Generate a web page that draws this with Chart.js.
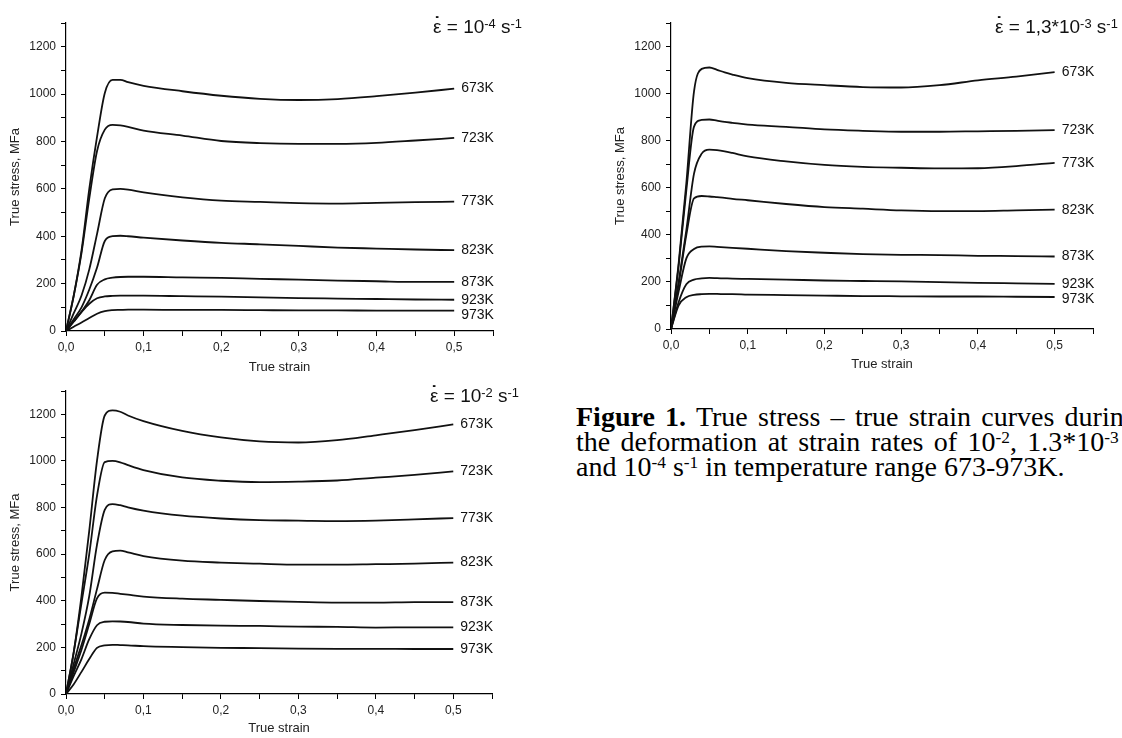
<!DOCTYPE html>
<html>
<head>
<meta charset="utf-8">
<script src="https://cdn.jsdelivr.net/npm/chart.js@4.4.0/dist/chart.umd.min.js"></script>
<style>
  body { margin: 0; width: 1122px; height: 738px; overflow: hidden; background: #fff; position: relative;
         font-family: Arial, 'Liberation Sans', sans-serif; }
  canvas { position: absolute; }
  .rate { position: absolute; font-size: 19px; line-height: 22px; white-space: nowrap; color: #111; }
  .rate sup { font-size: 0.68em; position: relative; top: -0.42em; vertical-align: baseline; line-height: 0; }
  .eps { position: relative; display: inline-block; }
  .eps .dot { position: absolute; left: 0; width: 100%; text-align: center; top: -0.14em; font-weight: bold; }
  .cap { position: absolute; left: 576px; font-family: 'Liberation Serif', 'Times New Roman', serif;
         font-size: 28px; line-height: 25px; white-space: nowrap; color: #000; }
  .cap sup { font-size: 0.62em; position: relative; top: -0.45em; vertical-align: baseline; line-height: 0; }
</style>
</head>
<body>
<canvas id="g1" width="560" height="380" style="left:0;top:0"></canvas>
<canvas id="g2" width="517" height="380" style="left:605px;top:0"></canvas>
<canvas id="g3" width="560" height="372" style="left:0;top:366px"></canvas>

<div class="rate" style="left:433px;top:16px"><span class="eps">ε<span class="dot">˙</span></span> = 10<sup>-4</sup> s<sup>-1</sup></div>
<div class="rate" style="left:995px;top:16px"><span class="eps">ε<span class="dot">˙</span></span> = 1,3*10<sup>-3</sup> s<sup>-1</sup></div>
<div class="rate" style="left:430px;top:385px"><span class="eps">ε<span class="dot">˙</span></span> = 10<sup>-2</sup> s<sup>-1</sup></div>

<div class="cap" style="top:404px;word-spacing:3.3px"><b>Figure 1.</b> True stress – true strain curves during</div>
<div class="cap" style="top:429px;word-spacing:3.3px">the deformation at strain rates of 10<sup>-2</sup>, 1.3*10<sup>-3</sup></div>
<div class="cap" style="top:454px">and 10<sup>-4</sup> s<sup>-1</sup> in temperature range 673-973K.</div>

<script>
// strain points shared by all curves
const strain = [0, 0.01, 0.02, 0.03, 0.04, 0.05, 0.06, 0.07, 0.08, 0.1, 0.15, 0.2, 0.25, 0.3, 0.35, 0.4, 0.45, 0.5];
const temps = ['673K', '723K', '773K', '823K', '873K', '923K', '973K'];

// rate 1e-4 s-1, true stress MPa
const r4_673 = [0, 150, 340, 600, 820, 1005, 1060, 1060, 1050, 1035, 1012, 993, 980, 975, 979, 991, 1006, 1023];
const r4_723 = [0, 150, 330, 560, 760, 850, 870, 868, 862, 846, 825, 802, 793, 790, 790, 794, 804, 815];
const r4_773 = [0, 75, 150, 260, 410, 560, 598, 600, 597, 585, 564, 550, 545, 540, 538, 541, 544, 546];
const r4_823 = [0, 50, 100, 175, 268, 380, 400, 402, 400, 394, 382, 372, 366, 359, 352, 348, 344, 341];
const r4_873 = [0, 40, 82, 130, 195, 218, 225, 228, 229, 229, 226, 224, 220, 217, 213, 210, 207, 207];
const r4_923 = [0, 40, 80, 115, 138, 146, 148, 149, 149, 149, 147, 145, 142, 139, 137, 135, 133, 132];
const r4_973 = [0, 18, 36, 55, 73, 84, 88, 89, 90, 90, 89, 89, 88, 87, 87, 86, 86, 86];

// rate 1.3e-3 s-1
const r3_673 = [0, 280, 620, 1010, 1105, 1111, 1101, 1090, 1081, 1066, 1046, 1036, 1028, 1026, 1036, 1056, 1072, 1091];
const r3_723 = [0, 270, 590, 860, 888, 890, 885, 880, 876, 868, 859, 848, 842, 838, 838, 840, 842, 845];
const r3_773 = [0, 200, 420, 660, 745, 762, 760, 755, 748, 733, 712, 697, 689, 685, 682, 683, 692, 706];
const r3_823 = [0, 190, 400, 555, 565, 563, 560, 557, 553, 547, 531, 518, 511, 504, 501, 501, 504, 507];
const r3_873 = [0, 160, 300, 340, 350, 351, 349, 347, 345, 341, 331, 324, 318, 315, 314, 311, 310, 308];
const r3_923 = [0, 115, 190, 210, 215, 217, 216, 215, 214, 213, 210, 206, 204, 202, 199, 196, 194, 192];
const r3_973 = [0, 100, 135, 145, 148, 149, 149, 148, 148, 146, 144, 142, 140, 139, 138, 138, 137, 136];

// rate 1e-2 s-1
const r2_673 = [0, 180, 420, 700, 1000, 1195, 1217, 1211, 1195, 1171, 1129, 1101, 1084, 1079, 1089, 1110, 1132, 1157];
const r2_723 = [0, 180, 390, 600, 850, 995, 1000, 994, 982, 961, 929, 915, 909, 911, 916, 928, 940, 955];
const r2_773 = [0, 130, 260, 420, 640, 790, 815, 810, 801, 787, 765, 753, 746, 744, 742, 744, 749, 755];
const r2_823 = [0, 110, 210, 320, 450, 575, 612, 615, 608, 592, 572, 564, 559, 555, 555, 557, 559, 564];
const r2_873 = [0, 95, 190, 300, 410, 435, 434, 430, 426, 418, 409, 404, 399, 395, 392, 392, 394, 394];
const r2_923 = [0, 78, 150, 235, 295, 310, 312, 311, 309, 302, 296, 293, 292, 289, 288, 285, 286, 286];
const r2_973 = [0, 42, 95, 150, 198, 209, 211, 210, 209, 205, 201, 198, 197, 195, 194, 194, 193, 193];

const FONT = 'Arial, "Liberation Sans", sans-serif';

// temperature labels at the end of each curve
const endLabels = {
  id: 'endLabels',
  afterDatasetsDraw(chart) {
    const ctx = chart.ctx;
    ctx.save();
    ctx.font = '14px ' + FONT;
    ctx.fillStyle = '#111';
    ctx.textBaseline = 'middle';
    let prev = -Infinity;
    chart.data.datasets.forEach((ds, i) => {
      const pts = chart.getDatasetMeta(i).data;
      const p = pts[pts.length - 1];
      const y = Math.max(p.y, prev + 15); // keep close labels apart
      ctx.fillText(ds.label, p.x + 7, y);
      prev = y;
    });
    ctx.restore();
  }
};

function drawPanel(id, curves, geo) {
  new Chart(document.getElementById(id), {
    type: 'line',
    data: {
      datasets: curves.map((vals, i) => ({
        label: temps[i],
        data: strain.map((s, j) => ({ x: s, y: vals[j] })),
        borderColor: '#111',
        borderWidth: 1.8,
        pointRadius: 0,
        fill: false,
        cubicInterpolationMode: 'monotone'
      }))
    },
    options: {
      responsive: false,
      animation: false,
      events: [],
      layout: { padding: { left: 0, top: geo.top, right: geo.right, bottom: 0 } },
      plugins: { legend: { display: false }, tooltip: { enabled: false } },
      scales: {
        x: {
          type: 'linear', min: 0, max: 0.55,
          afterFit: s => { s.height = geo.xh; },
          border: { color: '#000', width: 1.2 },
          grid: { drawOnChartArea: false, tickLength: 5, tickColor: '#000' },
          ticks: {
            stepSize: 0.05, autoSkip: false, maxRotation: 0, padding: 4,
            color: '#222', font: { family: FONT, size: 12 },
            callback: v => {
              const n = Math.round(v * 100);
              return n % 10 === 0 ? (n / 100).toFixed(1).replace('.', ',') : '';
            }
          },
          title: { display: true, text: 'True strain', color: '#222',
                   font: { family: FONT, size: 13 }, padding: { top: 0, bottom: geo.tb } }
        },
        y: {
          min: 0, max: 1300,
          afterFit: s => { s.width = geo.yw; },
          border: { color: '#000', width: 1.2 },
          grid: { drawOnChartArea: false, tickLength: 5, tickColor: '#000' },
          ticks: {
            stepSize: 100, autoSkip: false, padding: 5,
            color: '#222', font: { family: FONT, size: 12 },
            callback: v => (v % 200 === 0 ? v : '')
          },
          title: { display: true, text: 'True stress, MFa', color: '#222',
                   font: { family: FONT, size: 13 }, padding: { top: 8, bottom: 0 } }
        }
      }
    },
    plugins: [endLabels]
  });
}

drawPanel('g1', [r4_673, r4_723, r4_773, r4_823, r4_873, r4_923, r4_973],
          { top: 23, right: 67, xh: 49, yw: 66, tb: 5 });
drawPanel('g2', [r3_673, r3_723, r3_773, r3_823, r3_873, r3_923, r3_973],
          { top: 23, right: 29, xh: 51, yw: 66, tb: 8 });
drawPanel('g3', [r2_673, r2_723, r2_773, r2_823, r2_873, r2_923, r2_973],
          { top: 25, right: 68, xh: 44, yw: 66, tb: 2 });
</script>
</body>
</html>
